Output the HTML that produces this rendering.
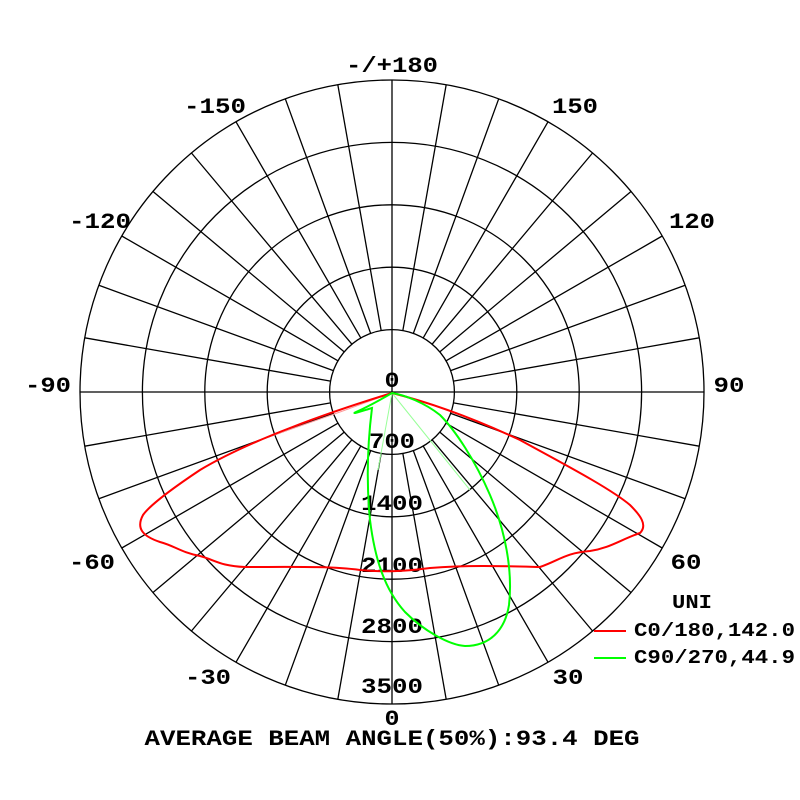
<!DOCTYPE html>
<html><head><style>body{margin:0;background:#fff}svg{display:block}</style></head><body>
<svg width="800" height="800" viewBox="0 0 800 800" xmlns="http://www.w3.org/2000/svg">
<rect width="800" height="800" fill="#fff"/>
<g fill="none" stroke="#000" stroke-width="1.3">
<circle cx="392" cy="392" r="62.4"/>
<circle cx="392" cy="392" r="124.8"/>
<circle cx="392" cy="392" r="187.2"/>
<circle cx="392" cy="392" r="249.6"/>
<circle cx="392" cy="392" r="312"/>
<line x1="80" y1="392" x2="704" y2="392"/>
<line x1="392" y1="80" x2="392" y2="704"/>
<path d="M402.84,453.45L446.18,699.26M381.16,453.45L337.82,699.26M402.84,330.55L446.18,84.74M381.16,330.55L337.82,84.74
M413.34,450.64L498.71,685.18M370.66,450.64L285.29,685.18M413.34,333.36L498.71,98.82M370.66,333.36L285.29,98.82
M423.2,446.04L548,662.2M360.8,446.04L236,662.2M423.2,337.96L548,121.8M360.8,337.96L236,121.8
M432.11,439.8L592.55,631M351.89,439.8L191.45,631M432.11,344.2L592.55,153M351.89,344.2L191.45,153
M439.8,432.11L631,592.55M344.2,432.11L153,592.55M439.8,351.89L631,191.45M344.2,351.89L153,191.45
M446.04,423.2L662.2,548M337.96,423.2L121.8,548M446.04,360.8L662.2,236M337.96,360.8L121.8,236
M450.64,413.34L685.18,498.71M333.36,413.34L98.82,498.71M450.64,370.66L685.18,285.29M333.36,370.66L98.82,285.29
M453.45,402.84L699.26,446.18M330.55,402.84L84.74,446.18M453.45,381.16L699.26,337.82M330.55,381.16L84.74,337.82"/>
</g>
<g font-family="Liberation Mono, monospace" font-weight="bold" font-size="22" fill="#000" text-anchor="middle" lengthAdjust="spacingAndGlyphs">
<text x="392" y="72" textLength="92" lengthAdjust="spacingAndGlyphs">-/+180</text>
<text x="215" y="113" textLength="62" lengthAdjust="spacingAndGlyphs">-150</text>
<text x="575" y="113" textLength="46" lengthAdjust="spacingAndGlyphs">150</text>
<text x="100" y="228" textLength="62" lengthAdjust="spacingAndGlyphs">-120</text>
<text x="692" y="228" textLength="46" lengthAdjust="spacingAndGlyphs">120</text>
<text x="48" y="392" textLength="46" lengthAdjust="spacingAndGlyphs">-90</text>
<text x="729" y="392" textLength="31" lengthAdjust="spacingAndGlyphs">90</text>
<text x="92" y="569" textLength="46" lengthAdjust="spacingAndGlyphs">-60</text>
<text x="686" y="569" textLength="31" lengthAdjust="spacingAndGlyphs">60</text>
<text x="208" y="684" textLength="46" lengthAdjust="spacingAndGlyphs">-30</text>
<text x="568" y="684" textLength="31" lengthAdjust="spacingAndGlyphs">30</text>
<text x="392" y="725" textLength="15" lengthAdjust="spacingAndGlyphs">0</text>
<text x="392" y="387" textLength="15" lengthAdjust="spacingAndGlyphs">0</text>
<text x="392" y="448" textLength="46" lengthAdjust="spacingAndGlyphs">700</text>
<text x="392" y="510" textLength="62" lengthAdjust="spacingAndGlyphs">1400</text>
<text x="392" y="572" textLength="62" lengthAdjust="spacingAndGlyphs">2100</text>
<text x="392" y="633" textLength="62" lengthAdjust="spacingAndGlyphs">2800</text>
<text x="392" y="693" textLength="62" lengthAdjust="spacingAndGlyphs">3500</text>
<text x="392" y="745" textLength="495" lengthAdjust="spacingAndGlyphs">AVERAGE BEAM ANGLE(50%):93.4 DEG</text>
</g>
<g font-family="Liberation Mono, monospace" font-weight="bold" font-size="19" fill="#000">
<text x="672" y="608" textLength="40" lengthAdjust="spacingAndGlyphs">UNI</text>
<text x="634" y="636" textLength="161" lengthAdjust="spacingAndGlyphs">C0/180,142.0</text>
<text x="634" y="663" textLength="161" lengthAdjust="spacingAndGlyphs">C90/270,44.9</text>
</g>
<line x1="594" y1="631" x2="626" y2="631" stroke="#f00" stroke-width="2"/>
<line x1="594" y1="658" x2="626" y2="658" stroke="#0f0" stroke-width="2"/>
<g fill="none" stroke-width="1">
<path d="M392,393 L340,412 L260,440" stroke="#f99"/>
<path d="M392,393 L470,490 M392,393 L378,470" stroke="#9f9"/>
</g>
<path fill="none" stroke="#f00" stroke-width="2" d="M392,393 C330,412 250,440 200,470 C170,490 150,505 143,515 C136,528 142,536 160,542 C175,546 180,552 200,556 C215,560 220,566 245,567 C290,567 330,566 360,570 C380,572 400,572 430,568 C470,565 500,566 540,567 C560,560 565,553 590,551 C610,548 620,540 640,533 C648,525 640,515 630,505 C610,488 560,462 520,440 C460,412 420,400 392,393 Z"/>
<path fill="none" stroke="#0f0" stroke-width="2" d="M392,393 C380,400 365,408 356,412 C350,415 362,411 372,408 C368,440 366,480 370,520 C375,560 385,590 405,612 C425,632 450,645 465,646 C490,646 505,630 509,605 C513,570 505,530 490,495 C475,460 455,430 440,415 C425,403 405,395 392,393 Z"/>
</svg>
</body></html>
